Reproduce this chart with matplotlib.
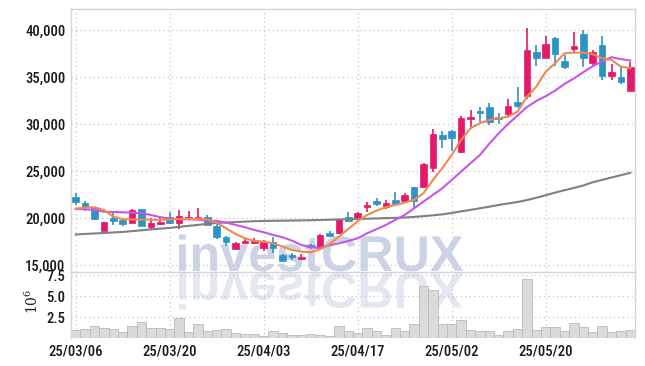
import matplotlib
matplotlib.use('Agg')
import matplotlib.pyplot as plt
import numpy as np
from matplotlib.ticker import FuncFormatter
from matplotlib.textpath import TextPath
from matplotlib.patches import PathPatch
from matplotlib.font_manager import FontProperties
from matplotlib.transforms import Affine2D
import logging
logging.getLogger('matplotlib.font_manager').setLevel(logging.ERROR)

# trading days 2025-03-06 .. 2025-06-02
dates = ['25/03/06', '25/03/07', '25/03/10', '25/03/11', '25/03/12', '25/03/13', '25/03/14', '25/03/17',
         '25/03/18', '25/03/19', '25/03/20', '25/03/21', '25/03/24', '25/03/25', '25/03/26', '25/03/27',
         '25/03/28', '25/03/31', '25/04/01', '25/04/02', '25/04/03', '25/04/04', '25/04/07', '25/04/08',
         '25/04/09', '25/04/10', '25/04/11', '25/04/14', '25/04/15', '25/04/16', '25/04/17', '25/04/18',
         '25/04/21', '25/04/22', '25/04/23', '25/04/24', '25/04/25', '25/04/28', '25/04/29', '25/04/30',
         '25/05/02', '25/05/07', '25/05/08', '25/05/09', '25/05/12', '25/05/13', '25/05/14', '25/05/15',
         '25/05/16', '25/05/19', '25/05/20', '25/05/21', '25/05/22', '25/05/23', '25/05/26', '25/05/27',
         '25/05/28', '25/05/29', '25/05/30', '25/06/02']

opens = [22270, 21560, 21030, 18650, 20030, 19790, 19500, 20960, 19070, 19360,
         20070, 19440, 19890, 19970, 20070, 19180, 17950, 16730, 17310, 17310,
         16840, 17480, 16060, 16060, 15600, 17090, 16770, 18440, 18370, 20140,
         20030, 21140, 21810, 21140, 21920, 21810, 23270, 23330, 25290, 28830,
         29250, 27050, 30530, 31420, 31840, 30710, 31060, 32370, 33010, 37700,
         37050, 39180, 36730, 37980, 39540, 36460, 38400, 35140, 34970, 33540]
highs = [22660, 21840, 21100, 19600, 20500, 20030, 20900, 21000, 20030, 20030,
         20600, 20850, 20740, 21030, 20300, 19440, 18090, 17400, 17800, 17900,
         17660, 18010, 16170, 16250, 16170, 17230, 18250, 18650, 19900, 20600,
         20600, 21670, 22100, 21910, 22800, 22630, 23330, 25880, 29470, 29290,
         29400, 30850, 31490, 31840, 32200, 31200, 32630, 33900, 40180, 38400,
         39360, 39290, 37340, 39750, 40000, 37870, 39360, 36380, 36030, 36630]
lows = [21380, 20780, 19800, 18600, 19250, 19180, 19450, 19150, 18800, 19300,
        19360, 18800, 19790, 19890, 19200, 17730, 17020, 16650, 17200, 17200,
        16490, 16310, 15320, 15530, 15530, 16730, 16700, 18010, 18300, 19600,
        19950, 20600, 21250, 20920, 21380, 21740, 20960, 23160, 24930, 27420,
        27100, 26880, 29650, 30250, 29890, 30000, 30780, 31670, 32630, 36170,
        36990, 36170, 35850, 37520, 36100, 36170, 34680, 34680, 34260, 33540]
closes = [21730, 21200, 19860, 19540, 19710, 19360, 20850, 19180, 19500, 19600,
          19440, 20210, 20110, 20140, 19250, 18010, 17450, 17310, 17550, 17660,
          17480, 16840, 15460, 15820, 15880, 16920, 18190, 18090, 19860, 19710,
          20560, 21380, 21490, 21560, 21490, 22450, 21840, 25750, 28940, 28370,
          28540, 30600, 30780, 31200, 30250, 30500, 31920, 31950, 37870, 37050,
          38510, 37450, 36100, 38300, 37050, 37700, 35110, 35530, 34500, 36030]

ma5 = [20990, 21100, 21140, 20850, 20140, 19860, 19840, 19820, 19820, 19790,
       19840, 19890, 19890, 19890, 19840, 19500, 18900, 18300, 17840, 17550,
       17480, 17300, 16950, 16600, 16420, 16350, 16670, 17200, 18010, 18830,
       19650, 20320, 20780, 21140, 21380, 21630, 21920, 22630, 24040, 25290,
       26700, 28300, 29540, 30080, 30430, 30600, 30780, 31310, 32900, 33970,
       35560, 36460, 37520, 37590, 37590, 37420, 36990, 36810, 36100, 35930]
ma20 = [20960, 20930, 20850, 20670, 20640, 20600, 20560, 20500, 20320, 20080,
        19930, 19860, 19860, 19820, 19710, 19680, 19500, 19260, 19010, 18720,
        18480, 18190, 17950, 17590, 17130, 16880, 16810, 17100, 17300, 17550,
        17840, 18370, 18800, 19260, 19790, 20320, 21030, 21740, 22450, 23160,
        24040, 24930, 25820, 26700, 27900, 29000, 30000, 30900, 31800, 32450,
        32950, 33550, 34250, 34850, 35500, 36150, 36650, 37100, 36900, 36750]
ma60 = [18240, 18300, 18350, 18400, 18460, 18510, 18600, 18690, 18780, 18860,
        18940, 19050, 19160, 19260, 19370, 19470, 19520, 19560, 19610, 19650,
        19680, 19700, 19710, 19720, 19740, 19760, 19780, 19810, 19840, 19860,
        19890, 19920, 19950, 19980, 20010, 20050, 20110, 20190, 20280, 20380,
        20530, 20700, 20860, 21030, 21200, 21380, 21540, 21700, 21900, 22150,
        22420, 22700, 22950, 23200, 23450, 23800, 24050, 24300, 24550, 24800]

volumes = [920000, 1040000, 1390000, 1150000, 1040000, 680000, 1390000, 1870000, 1150000, 1150000,
           1040000, 2340000, 680000, 1630000, 800000, 920000, 1040000, 560000, 440000, 440000,
           200000, 800000, 560000, 320000, 320000, 440000, 400000, 250000, 1470000, 800000,
           600000, 1240000, 800000, 400000, 1240000, 800000, 1710000, 6150000, 5680000, 1710000,
           1710000, 2100000, 1000000, 880000, 880000, 400000, 880000, 1120000, 7070000, 1000000,
           1360000, 1360000, 800000, 1830000, 1360000, 680000, 1470000, 680000, 800000, 1000000]

up_color = '#e3196b'
down_color = '#2d92c6'
tick_font = ['Liberation Sans Narrow', 'DejaVu Sans Condensed', 'Roboto Condensed', 'Roboto']
tick_size = 10.5

x = np.arange(len(dates))
o = np.array(opens)
c = np.array(closes)
colors = [up_color if cc >= oo else down_color for oo, cc in zip(o, c)]

fig = plt.figure(figsize=(6.45, 3.66), dpi=100)
ax = fig.add_axes([71 / 645, 1 - 272 / 366, 564 / 645, 263 / 366])
axv = fig.add_axes([71 / 645, 1 - 338 / 366, 564 / 645, 66 / 366], sharex=ax)

# watermark with reflection (behind the axes)
fp = FontProperties(family='Liberation Sans', weight='bold')
tp = TextPath((0, 0), 'investCRUX', size=50, prop=fp)
ext = tp.get_extents()
s = 284 / ext.width
x0 = 179 - ext.x0 * s
base = 366 - 271
tr_main = Affine2D().scale(s / 100, s / 100).translate(x0 / 100, base / 100) + fig.dpi_scale_trans
tr_refl = Affine2D().scale(s / 100, -s / 100).translate(x0 / 100, (base - 2) / 100) + fig.dpi_scale_trans
fig.add_artist(PathPatch(tp, transform=tr_main, facecolor='#ccd3e4', edgecolor='none', zorder=-2))
fig.add_artist(PathPatch(tp, transform=tr_refl, facecolor='#e3e7f0', edgecolor='none', zorder=-2))

# candles
ax.vlines(x, lows, highs, colors=colors, linewidth=1.2, zorder=2)
heights = np.maximum(np.abs(c - o), 60)
ax.bar(x, heights, bottom=np.minimum(o, c), width=0.72, color=colors, edgecolor=colors,
       linewidth=0.5, zorder=3)

ax.plot(x, ma60, color='#808080', linewidth=1.5, zorder=4)
ax.plot(x, ma20, color='#c955e8', linewidth=1.5, zorder=4)
ax.plot(x, ma5, color='#ef8a4f', linewidth=1.5, zorder=4)

# volume
axv.bar(x, np.array(volumes) / 1e6, width=1.0, color='#d8d8d8', edgecolor='#bcbcbc',
        linewidth=0.7, alpha=0.9, zorder=2)

for a in (ax, axv):
    a.set_facecolor('none')
    a.grid(True, color='#c2c6d6', linestyle=(0, (1, 2.5)), linewidth=0.9, zorder=0)
    a.tick_params(length=0, colors='#1a1a1a', pad=4)
    for sp in a.spines.values():
        sp.set_color('#d5d5d5')
        sp.set_linewidth(1.0)

ax.set_xlim(-0.5, len(dates) - 0.5)
ax.set_ylim(14250, 42230)
ax.set_yticks([15000, 20000, 25000, 30000, 35000, 40000])
ax.yaxis.set_major_formatter(FuncFormatter(lambda v, p: '{:,.0f}'.format(v)))
ax.tick_params(labelbottom=False)
ax.spines['bottom'].set_visible(False)

axv.set_ylim(0, 7.86)
axv.set_yticks([2.5, 5.0, 7.5])
axv.yaxis.set_major_formatter(FuncFormatter(lambda v, p: '{:.1f}'.format(v)))
axv.set_xticks(x[::10])
axv.set_xticklabels([dates[i] for i in x[::10]])
axv.spines['bottom'].set_visible(False)
axv.tick_params(axis='x', pad=5)
for lab in axv.get_xticklabels() + axv.get_yticklabels() + ax.get_yticklabels():
    lab.set_family(tick_font)
    lab.set_fontsize(tick_size)
    lab.set_fontweight('medium')

fig.text(32 / 645, 1 - 301 / 366, r'$10^{6}$', rotation=90, ha='center', va='center',
         fontsize=10, color='#222222', math_fontfamily='dejavuserif')

fig.savefig('out.png', dpi=100)
